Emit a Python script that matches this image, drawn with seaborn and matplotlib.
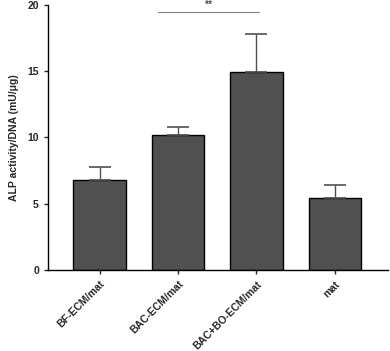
import numpy as np
import pandas as pd
import matplotlib
matplotlib.use('Agg')
import matplotlib.pyplot as plt
import seaborn as sns

sns.set_style('ticks')
plt.rcParams['font.family'] = ['Liberation Sans', 'DejaVu Sans']
plt.rcParams['font.weight'] = 'bold'

groups = ['BF-ECM/mat', 'BAC-ECM/mat', 'BAC+BO-ECM/mat', 'mat']
means = [6.75, 10.15, 14.95, 5.45]
errors = [1.05, 0.65, 2.85, 0.95]

df = pd.DataFrame({'group': groups, 'alp': means})

fig = plt.figure(figsize=(3.9, 3.51), dpi=100)
ax = fig.add_axes([0.123, 0.231, 0.872, 0.755])

sns.barplot(data=df, x='group', y='alp', color='#505050', width=0.67,
            edgecolor='black', linewidth=1.0, saturation=1, ax=ax)

x = np.arange(len(groups))
ax.errorbar(x, means, yerr=[np.zeros(len(errors)), errors], fmt='none',
            ecolor='#505050', elinewidth=1.0, capsize=8, capthick=1.2, zorder=1)

# significance bracket between BAC-ECM/mat and BAC+BO-ECM/mat
ax.plot([0.74, 2.03], [19.45, 19.45], color='#808080', lw=0.8, clip_on=False)
ax.text(1.38, 19.6, '**', ha='center', va='bottom', fontsize=7.5, color='#505050')

ax.set_ylim(0, 20)
ax.set_xlim(-0.66, 3.68)
ax.set_yticks([0, 5, 10, 15, 20])
ax.set_xlabel('')
ax.set_ylabel('ALP activity/DNA (mU/\u03bcg)', fontsize=7.5, fontweight='bold', labelpad=6)
ax.tick_params(axis='both', labelsize=7.5, width=1, length=3)
plt.setp(ax.get_xticklabels(), rotation=45, ha='right', rotation_mode='anchor')
for s in ['top', 'right']:
    ax.spines[s].set_visible(False)
for s in ['left', 'bottom']:
    ax.spines[s].set_linewidth(1.0)
    ax.spines[s].set_color('black')

fig.savefig('out.png', dpi=100)
